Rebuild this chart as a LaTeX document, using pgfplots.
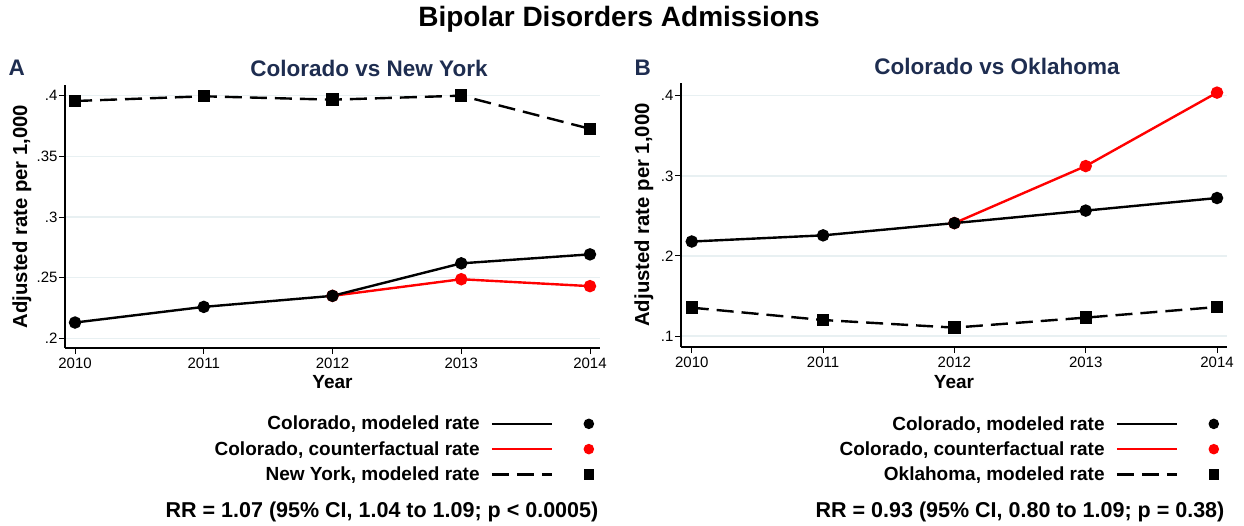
\documentclass[border=0pt]{standalone}
\usepackage{fontspec}
\setmainfont{Liberation Sans}
\usepackage{pgfplots}
\pgfplotsset{compat=1.18}

\definecolor{navy}{RGB}{30,45,80}
\definecolor{gridc}{RGB}{232,240,242}

\pgfplotsset{
  statapanel/.style={
    scale only axis,
    axis lines=left,
    axis line style={-, line width=1.2pt},
    xtick={2010,2011,2012,2013,2014},
    xticklabels={2010,2011,2012,2013,2014},
    tick align=outside,
    major tick length=6pt,
    tick style={black, line width=0.9pt},
    ymajorgrids,
    grid style={gridc, line width=1.4pt},
    /pgf/number format/assume math mode=true,
    tick label style={font=\fontsize{15}{18}\selectfont},
    yticklabel style={xshift=2pt},
    label style={font=\bfseries\fontsize{19}{22}\selectfont},
    ylabel style={font=\bfseries\fontsize{20.3}{24}\selectfont},
    xlabel={Year},
    ylabel={Adjusted rate per 1,000},
    legend plot pos=right,
    legend cell align=right,
    legend image code/.code={
      \draw[##1, mark=none] (0pt,0pt) -- (60pt,0pt);
      \draw[##1, mark options={solid, scale=0.8}] plot coordinates {(97pt,0pt)};
    },
    legend style={draw=none, fill=none, inner sep=0pt,
      font=\bfseries\fontsize{19}{22}\selectfont,
      column sep=9pt, row sep=6pt, anchor=north east},
  },
  modeled/.style={black, line width=2.4pt, mark=*, mark size=5pt},
  counter/.style={red, line width=2.4pt, mark=*, mark size=5pt},
  other/.style={black, line width=2.4pt, dash pattern=on 17pt off 8pt,
    mark=square*, mark size=5pt, mark options={solid}},
}

\begin{document}
\begin{tikzpicture}
\useasboundingbox (0,0) rectangle (1244pt,-525pt);

\node[font=\bfseries\fontsize{28}{32}\selectfont] at (619pt,-19pt) {Bipolar Disorders Admissions};

% Panel A
\node[anchor=west, text=navy, font=\bfseries\fontsize{22.5}{26}\selectfont] at (5pt,-68pt) {A};
\node[text=navy, font=\bfseries\fontsize{22.5}{26}\selectfont] at (369pt,-68pt) {Colorado vs New York};

\begin{axis}[statapanel,
  at={(65pt,-348pt)}, anchor=south west,
  width=535pt, height=263pt,
  xmin=2009.922, xmax=2014.078,
  ymin=0.192, ymax=0.4088,
  ytick={0.2,0.25,0.3,0.35,0.4},
  yticklabels={.2,.25,.3,.35,.4},
  ylabel style={at={(axis description cs:-0.0804,0.5)}, anchor=center},
  xlabel style={at={(axis description cs:0.5,-0.129)}, anchor=center},
  legend style={at={(axis description cs:0.987,-0.251)}},
]
\addlegendimage{modeled}
\addlegendentry{Colorado, modeled rate}
\addlegendimage{counter}
\addlegendentry{Colorado, counterfactual rate}
\addlegendimage{other}
\addlegendentry{New York, modeled rate}

\addplot[other, forget plot] coordinates {
  (2010,0.3956) (2011,0.3995) (2012,0.3967) (2013,0.4000) (2014,0.3727)
};
\addplot[counter, forget plot] coordinates {
  (2012,0.2350) (2013,0.2487) (2014,0.2430)
};
\addplot[modeled, forget plot] coordinates {
  (2010,0.2130) (2011,0.2259) (2012,0.2350) (2013,0.2618) (2014,0.2692)
};
\end{axis}

\node[font=\bfseries\fontsize{21.5}{25}\selectfont] at (382pt,-512pt)
  {RR = 1.07 (95\% CI, 1.04 to 1.09; p < 0.0005)};

% Panel B
\node[anchor=west, text=navy, font=\bfseries\fontsize{22.5}{26}\selectfont] at (631pt,-68pt) {B};
\node[text=navy, font=\bfseries\fontsize{22.5}{26}\selectfont] at (997pt,-66pt) {Colorado vs Oklahoma};

\begin{axis}[statapanel,
  at={(681pt,-347pt)}, anchor=south west,
  width=546pt, height=264pt,
  xmin=2009.918, xmax=2014.076,
  ymin=0.0863, ymax=0.4159,
  ytick={0.1,0.2,0.3,0.4},
  yticklabels={.1,.2,.3,.4},
  ylabel style={at={(axis description cs:-0.0678,0.5)}, anchor=center},
  xlabel style={at={(axis description cs:0.5,-0.1326)}, anchor=center},
  legend style={at={(axis description cs:0.9835,-0.254)}},
]
\addlegendimage{modeled}
\addlegendentry{Colorado, modeled rate}
\addlegendimage{counter}
\addlegendentry{Colorado, counterfactual rate}
\addlegendimage{other}
\addlegendentry{Oklahoma, modeled rate}

\addplot[other, forget plot] coordinates {
  (2010,0.1354) (2011,0.1200) (2012,0.1105) (2013,0.1230) (2014,0.1362)
};
\addplot[counter, forget plot] coordinates {
  (2012,0.2410) (2013,0.3122) (2014,0.4039)
};
\addplot[modeled, forget plot] coordinates {
  (2010,0.2180) (2011,0.2257) (2012,0.2410) (2013,0.2566) (2014,0.2723)
};
\end{axis}

\node[font=\bfseries\fontsize{21.5}{25}\selectfont] at (1020pt,-512pt)
  {RR = 0.93 (95\% CI, 0.80 to 1.09; p = 0.38)};
\end{tikzpicture}
\end{document}
